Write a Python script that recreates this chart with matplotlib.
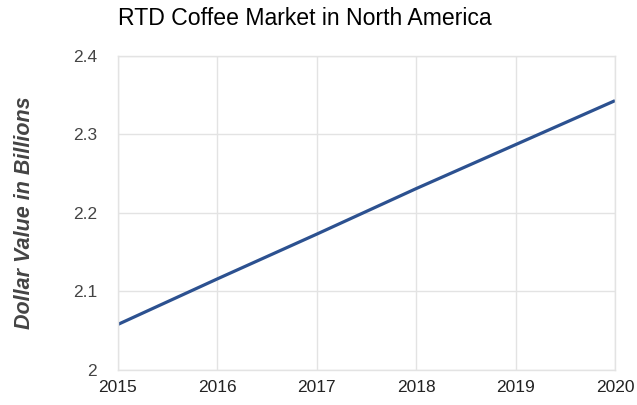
import matplotlib
matplotlib.use("Agg")
import matplotlib.pyplot as plt

years = [2015, 2016, 2017, 2018, 2019, 2020]
market_value = [2.058, 2.116, 2.173, 2.231, 2.287, 2.343]

plt.rcParams['font.family'] = ['Liberation Sans', 'DejaVu Sans']

fig = plt.figure(figsize=(6.37, 4.05), dpi=100)
ax = fig.add_axes([0.185, 0.0864, 0.7805, 0.7756])

ax.plot(years, market_value, color='#2c5190', linewidth=2.3, solid_capstyle='butt')

ax.set_xlim(2015, 2020)
ax.set_ylim(2.0, 2.4)
ax.set_xticks(years)
ax.set_yticks([2.0, 2.1, 2.2, 2.3, 2.4])
ax.set_yticklabels(['2', '2.1', '2.2', '2.3', '2.4'])
ax.grid(True, color='#e3e3e3', linewidth=1)
ax.set_axisbelow(True)
for s in ax.spines.values():
    s.set_color('#e3e3e3')
    s.set_linewidth(1)
ax.tick_params(length=0)
ax.tick_params(axis='x', labelsize=12.5, labelcolor='#222222', pad=7)
ax.tick_params(axis='y', labelsize=12.5, labelcolor='#444444', pad=15)

ax.set_ylabel('Dollar Value in Billions', fontsize=15.5, fontstyle='italic',
              fontweight='bold', color='#444444')
ax.yaxis.set_label_coords(-0.167, 0.5)
fig.text(0.185, 0.955, 'RTD Coffee Market in North America', fontsize=16.6,
         color='#000000', ha='left', va='center')

fig.savefig('out.png', dpi=100)
